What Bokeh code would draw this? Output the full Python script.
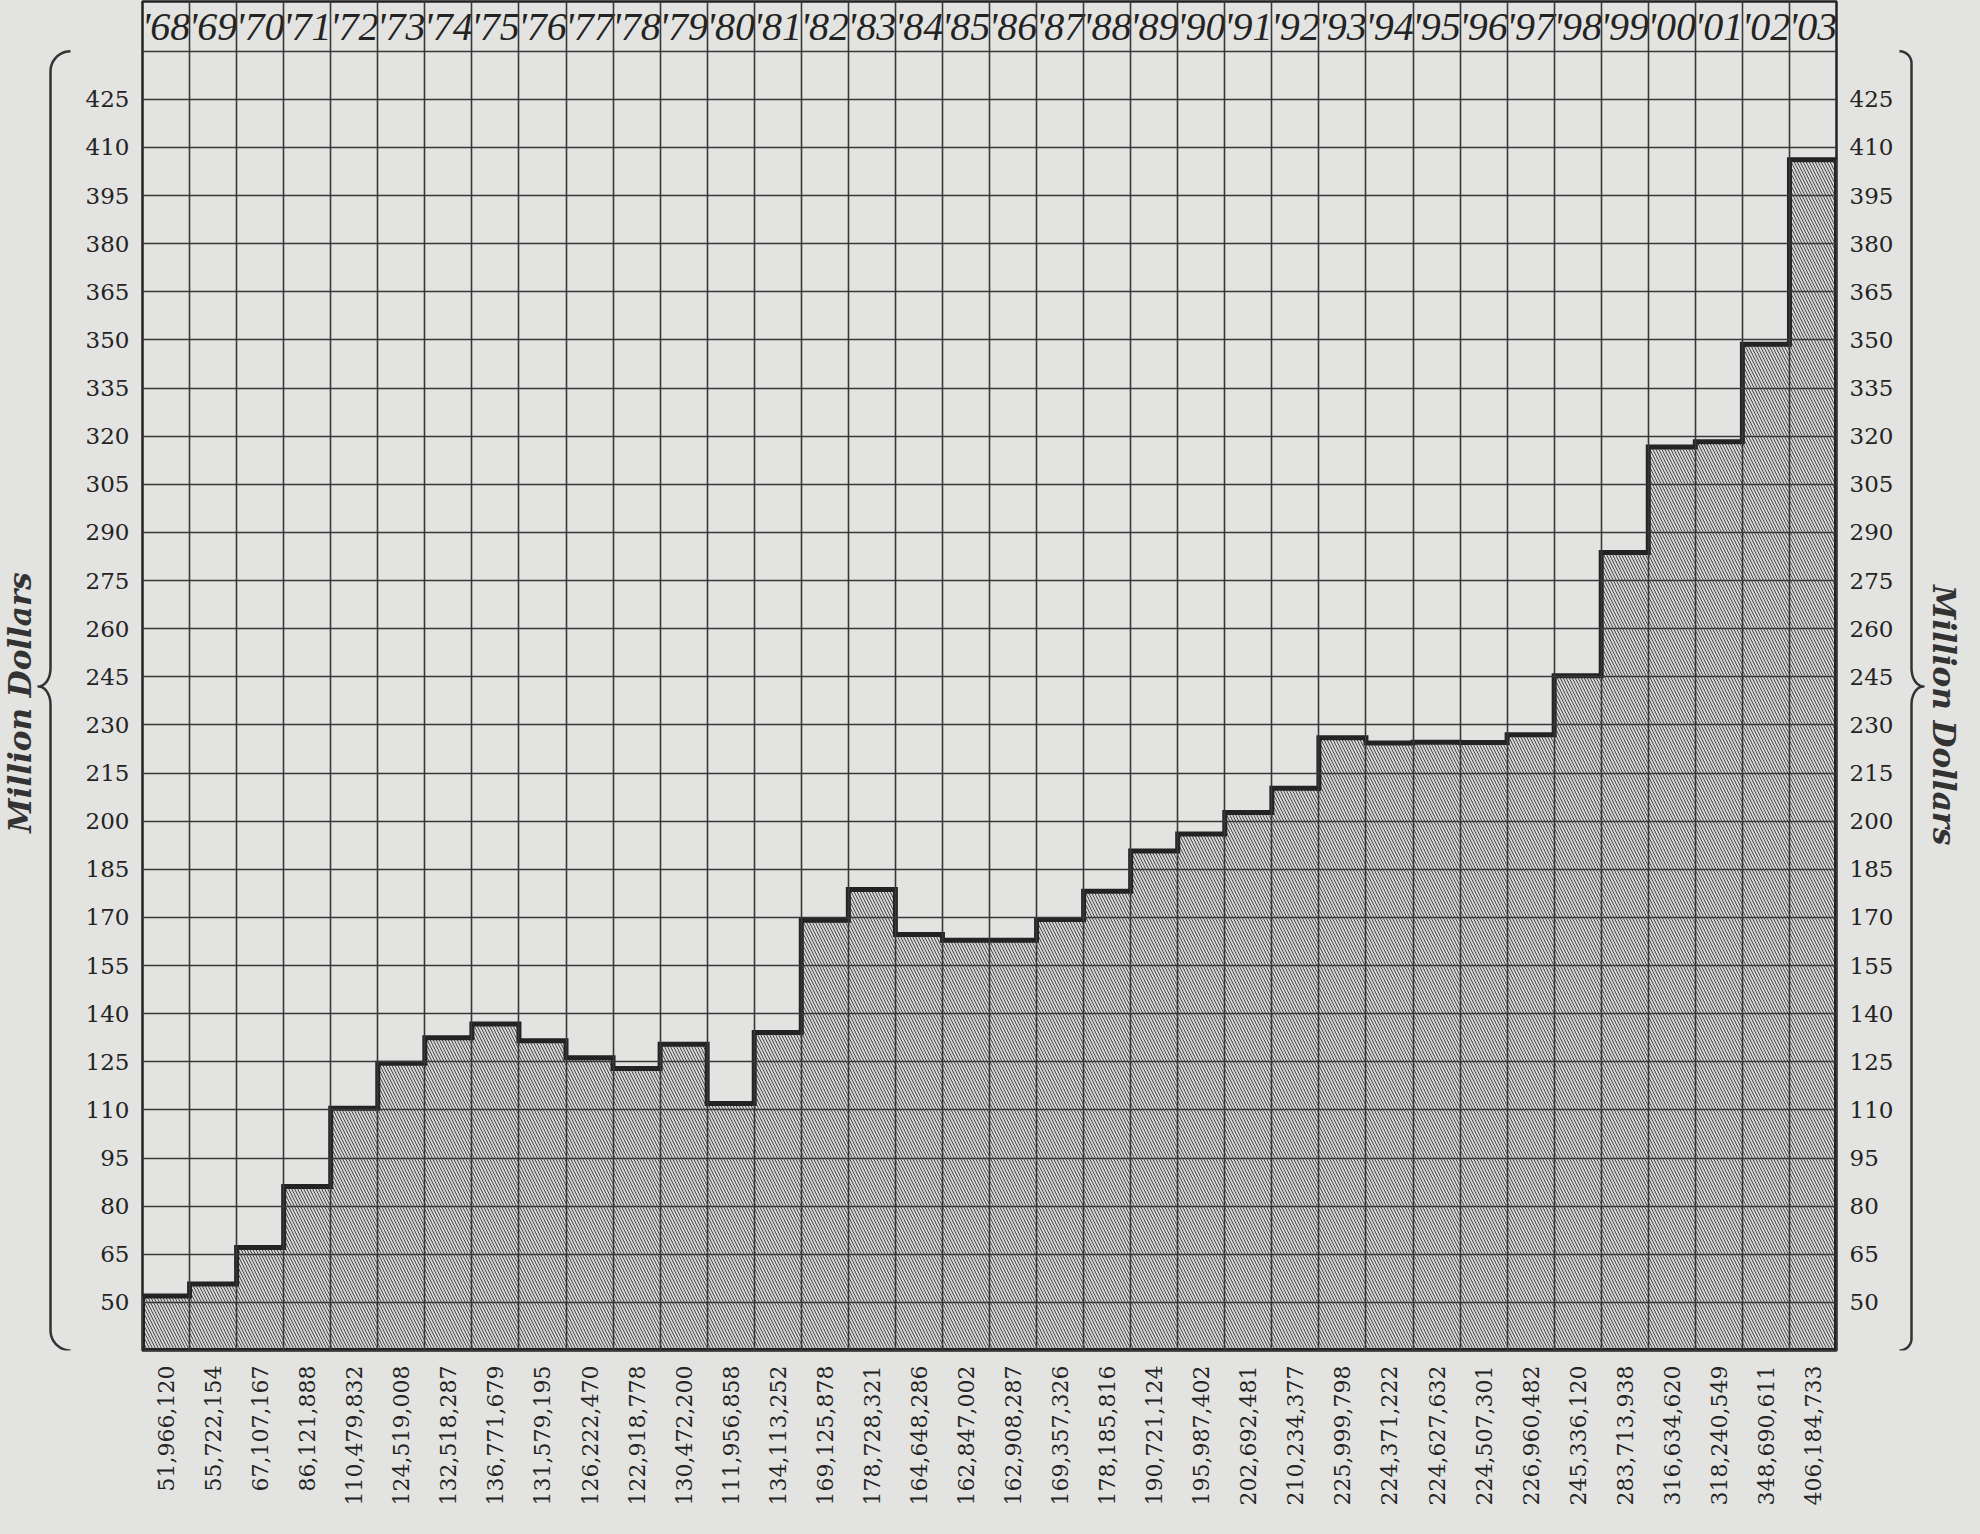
import math
import numpy as np
from bokeh.plotting import figure
from bokeh.layouts import row
from bokeh.models import (LinearAxis, FixedTicker, CustomJSTickFormatter, Range1d,
                          ColumnDataSource, GlobalInlineStyleSheet)
from bokeh.core.properties import value
from bokeh.embed import file_html
from bokeh.resources import INLINE

# ---------------- data ----------------
years = [1868, 1869, 1870, 1871, 1872, 1873, 1874, 1875, 1876, 1877, 1878, 1879,
         1880, 1881, 1882, 1883, 1884, 1885, 1886, 1887, 1888, 1889, 1890, 1891,
         1892, 1893, 1894, 1895, 1896, 1897, 1898, 1899, 1900, 1901, 1902, 1903]
year_labels = ["'68", "'69", "'70", "'71", "'72", "'73", "'74", "'75", "'76", "'77", "'78", "'79",
               "'80", "'81", "'82", "'83", "'84", "'85", "'86", "'87", "'88", "'89", "'90", "'91",
               "'92", "'93", "'94", "'95", "'96", "'97", "'98", "'99", "'00", "'01", "'02", "'03"]
values = [51966120, 55722154, 67107167, 86121888, 110479832, 124519008, 132518287,
          136771679, 131579195, 126222470, 122918778, 130472200, 111956858, 134113252,
          169125878, 178728321, 164648286, 162847002, 162908287, 169357326, 178185816,
          190721124, 195987402, 202692481, 210234377, 225999798, 224371222, 224627632,
          224507301, 226960482, 245336120, 283713938, 316634620, 318240549, 348690611,
          406184733]
value_labels = ["51,966,120", "55,722,154", "67,107,167", "86,121,888", "110,479,832",
                "124,519,008", "132,518,287", "136,771,679", "131,579,195", "126,222,470",
                "122,918,778", "130,472,200", "111,956,858", "134,113,252", "169,125,878",
                "178,728,321", "164,648,286", "162,847,002", "162,908,287", "169,357,326",
                "178,185,816", "190,721,124", "195,987,402", "202,692,481", "210,234,377",
                "225,999,798", "224,371,222", "224,627,632", "224,507,301", "226,960,482",
                "245,336,120", "283,713,938", "316,634,620", "318,240,549", "348,690,611",
                "406,184,733"]
y_ticks = [50, 65, 80, 95, 110, 125, 140, 155, 170, 185, 200, 215, 230, 245, 260,
           275, 290, 305, 320, 335, 350, 365, 380, 395, 410, 425]
grid_levels = [35, 50, 65, 80, 95, 110, 125, 140, 155, 170, 185, 200, 215, 230, 245,
               260, 275, 290, 305, 320, 335, 350, 365, 380, 395, 410, 425, 440]
axis_title = "Million Dollars"

# ---------------- layout / style ----------------
PAPER = "#e3e3e1"
INK = "#232323"
H = 1516
LW, MW, RW = 82, 1814, 66          # left panel, main chart, right panel widths
Y0, Y_PLOT_TOP, Y1 = 35, 440, 455.5
n = len(years)
MB_L, MB_R, MB_T, MB_B = 53, 53, 1, 166
FH = H - MB_T - MB_B
SY = FH / (Y1 - Y0)

p = figure(width=MW, height=H, output_backend="svg", toolbar_location=None,
           x_range=Range1d(0, n), y_range=Range1d(Y0, Y1),
           min_border_left=MB_L, min_border_right=MB_R,
           min_border_top=MB_T, min_border_bottom=MB_B,
           background_fill_color=PAPER, border_fill_color=PAPER,
           outline_line_color=INK, outline_line_width=2.5)

# grid
p.xgrid.ticker = FixedTicker(ticks=list(range(n + 1)))
p.ygrid.ticker = FixedTicker(ticks=grid_levels)
p.grid.grid_line_color = "#383838"
p.grid.grid_line_width = 1.6
p.grid.level = "overlay"

# bars (hatched)
src = ColumnDataSource(dict(
    left=list(range(n)),
    right=[i + 1 for i in range(n)],
    top=[v / 1e6 for v in values],
    bottom=[Y0] * n,
))
p.quad(left="left", right="right", top="top", bottom="bottom", source=src,
       fill_color="#d4d4d2", line_color=None,
       hatch_pattern="\\", hatch_color="#4a4a4a", hatch_weight=1.0, hatch_scale=6)

# thick outline of the stepped area
xs_out, ys_out = [0], [Y0]
for i, v in enumerate(values):
    xs_out += [i, i + 1]
    ys_out += [v / 1e6, v / 1e6]
xs_out += [n, 0]
ys_out += [Y0, Y0]
p.line(xs_out, ys_out, line_color=INK, line_width=5, line_join="miter")

# header row with years
p.text(x=[i + 0.5 for i in range(n)], y=[(Y_PLOT_TOP + Y1) / 2] * n, text=year_labels,
       text_font=value("Liberation Serif"), text_font_style="italic",
       text_font_size="40px", text_align="center", text_baseline="middle",
       text_color=INK)

# bottom axis: values
xa = p.xaxis[0]
xa.ticker = FixedTicker(ticks=[i + 0.5 for i in range(n)])
xa.formatter = CustomJSTickFormatter(args=dict(labels=value_labels),
                                     code="return labels[Math.floor(tick)] || '';")
xa.major_label_orientation = math.pi / 2
xa.major_label_text_font = "DejaVu Serif"
xa.major_label_text_font_size = "22px"
xa.major_label_text_color = INK
xa.major_label_standoff = 9
xa.axis_line_color = None
xa.major_tick_line_color = None
xa.minor_tick_line_color = None

# left and right value axes
ya = p.yaxis[0]
ra = LinearAxis()
p.add_layout(ra, "right")
for ax in (ya, ra):
    ax.ticker = FixedTicker(ticks=y_ticks)
    ax.major_label_text_font = "DejaVu Serif"
    ax.major_label_text_font_size = "23px"
    ax.major_label_text_color = INK
    ax.major_label_standoff = 7
    ax.axis_line_color = None
    ax.major_tick_line_color = None
    ax.minor_tick_line_color = None


# ---------------- side panels: braces and titles ----------------
def side_panel(w):
    f = figure(width=w, height=H, output_backend="svg", toolbar_location=None,
               x_range=Range1d(0, w), y_range=Range1d(Y0, Y1),
               min_border_left=0, min_border_right=0,
               min_border_top=MB_T, min_border_bottom=MB_B,
               x_axis_location=None, y_axis_location=None,
               background_fill_color=PAPER, border_fill_color=PAPER,
               outline_line_color=None)
    f.grid.visible = False
    return f


def brace(x0, direction, R, d=12, r_px=18, y_top=Y_PLOT_TOP, y_bot=Y0, y_c=242):
    Ry = R / SY
    ry = r_px / SY
    xs, ys = [], []
    for t in np.linspace(math.pi / 2, math.pi, 12):       # top curl
        xs.append(x0 + direction * (R + R * math.cos(t)))
        ys.append(y_top - Ry + Ry * math.sin(t))
    for t in np.linspace(0, -math.pi / 2, 10):             # upper half of cusp
        xs.append(x0 + direction * (-d + d * math.cos(t)))
        ys.append(y_c + ry + ry * math.sin(t))
    for t in np.linspace(math.pi / 2, 0, 10):              # lower half of cusp
        xs.append(x0 + direction * (-d + d * math.cos(t)))
        ys.append(y_c - ry + ry * math.sin(t))
    for t in np.linspace(math.pi, 3 * math.pi / 2, 12):    # bottom curl
        xs.append(x0 + direction * (R + R * math.cos(t)))
        ys.append(y_bot + Ry + Ry * math.sin(t))
    return xs, ys


left = side_panel(LW)
bx, by = brace(50, 1, 20)
left.line(bx, by, line_color="#333333", line_width=2.5, line_join="round")
left.text(x=[19], y=[237], text=[axis_title], angle=math.pi / 2,
          text_font=value("DejaVu Serif"), text_font_style="bold italic",
          text_font_size="31px", text_align="center", text_baseline="middle",
          text_color="#333333")

right = side_panel(RW)
bx, by = brace(15, -1, 12)
right.line(bx, by, line_color="#333333", line_width=2.5, line_join="round")
right.text(x=[47], y=[233], text=[axis_title], angle=-math.pi / 2,
           text_font=value("DejaVu Serif"), text_font_style="bold italic",
           text_font_size="31px", text_align="center", text_baseline="middle",
           text_color="#333333")

page_css = GlobalInlineStyleSheet(css=f"html, body {{ background-color: {PAPER}; }}")
layout = row(left, p, right, styles={"background-color": PAPER}, stylesheets=[page_css])
open("out.html", "w").write(file_html(layout, INLINE))
